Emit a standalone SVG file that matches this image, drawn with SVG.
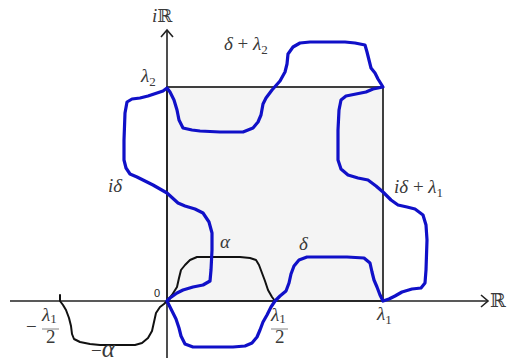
<svg xmlns="http://www.w3.org/2000/svg" width="507" height="364" viewBox="0 0 507 364">
<defs>
<style>
.ax{stroke:#222;stroke-width:1.6;fill:none}
.blue{stroke:#1010c8;stroke-width:3.2;fill:none;stroke-linejoin:round;stroke-linecap:round}
.blk{stroke:#111;stroke-width:2;fill:none;stroke-linejoin:round;stroke-linecap:round}
.t{font-family:"Liberation Serif","DejaVu Serif",serif;fill:#3a3a3a;font-size:19px}
.it{font-style:italic}
.sub{font-size:13px}
</style>
</defs>
<rect width="507" height="364" fill="#fff"/>
<g id="box">
<rect x="167" y="87" width="216" height="214" fill="#f4f4f4" stroke="#111" stroke-width="1.6"/>
</g>
<g id="axes">
<line class="ax" x1="10" y1="301" x2="488" y2="301"/>
<polyline class="ax" points="481,295 488,301 481,307"/>
<line class="ax" x1="167" y1="30" x2="167" y2="358"/>
<polyline class="ax" points="161,37 167,30 173,37"/>
</g>
<g id="connectors">
<path class="blk" d="M167,301 L172,295 L177,287 L179,278 L181,270 L185,265 L190,260 L197,257 L213,257 L240,257 L250,258 L256,260 L259,265 L262,273 L265,281 L268,290 L272,297 L275,301"/>
<path class="blk" d="M60,295 L60,301 L63,305 L66,310 L69,318 L71,326 L72,334 L74,339 L80,342 L90,344 L100,345 L120,345 L135,345 L142,343 L148,338 L152,331 L154,322 L156,313 L160,307 L164,304 L167,301"/>
<path class="blue" d="M167,301 L170,298 L177,293 L183,290 L193,287 L203,285 L210,281 L211,270 L212,250 L212,233 L209,222 L203,213 L195,209 L185,206 L178,203 L167,193 L160,189 L153,185 L145,181 L137,177 L130,174 L126,168 L124,160 L124,140 L125,113 L127,102 L132,99 L140,98 L148,96 L157,93 L163,91 L167,88 L170,92 L174,100 L177,110 L179,120 L183,128 L192,130 L200,131 L220,132 L243,132 L253,128 L258,122 L261,115 L263,104 L266,98 L272,90 L280,81 L285,72 L287,64 L288,54 L293,47 L300,43 L310,42 L345,42 L355,43 L365,45 L367,52 L369,60 L371,68 L375,73 L378,79 L383,87 L378,88 L373,89 L366,92 L356,94 L346,96 L341,100 L339,110 L338,130 L338,160 L341,169 L348,175 L358,178 L368,180 L376,186 L383,192 L391,200 L398,205 L407,207 L415,209 L423,215 L426,225 L427,240 L426,270 L425,283 L421,288 L412,289 L402,292 L395,296 L389,299 L383,301 L380,295 L377,287 L374,280 L372,272 L370,263 L364,258 L347,257 L320,257 L307,257 L299,260 L294,266 L291,274 L289,283 L286,291 L280,296 L275,301 L271,307 L267,315 L263,322 L260,330 L257,337 L252,343 L245,346 L233,347 L210,347 L193,347 L185,344 L181,336 L179,328 L176,319 L172,311 L167,301 Z"/>
</g>
<g id="labels">
<text class="t" x="152" y="22" font-size="20"><tspan class="it">i</tspan><tspan font-family="DejaVu Serif" font-size="18">ℝ</tspan></text>
<text class="t" x="490" y="307" font-family="DejaVu Serif" font-size="15">ℝ</text>
<text class="t it" x="141" y="82">λ<tspan class="sub" dy="4" font-style="normal">2</tspan></text>
<text class="t it" x="224" y="50">δ<tspan font-style="normal"> + </tspan>λ<tspan class="sub" dy="4" font-style="normal">2</tspan></text>
<text class="t it" x="108" y="192">iδ</text>
<text class="t it" x="394" y="193">iδ<tspan font-style="normal"> + </tspan>λ<tspan class="sub" dy="4" font-style="normal">1</tspan></text>
<text class="t it" x="220" y="248" font-size="26">α</text>
<text class="t it" x="299" y="250" font-size="20">δ</text>
<text x="154" y="297" font-family="Liberation Sans,Arial,sans-serif" font-size="11" fill="#222">0</text>
<text class="t it" x="377" y="320">λ<tspan class="sub" dy="4" font-style="normal">1</tspan></text>
<g id="frac1">
<text class="t it" x="271" y="321" font-size="15">λ<tspan class="sub" font-size="10" dy="2" font-style="normal">1</tspan></text>
<line x1="271" y1="329" x2="288" y2="329" stroke="#666" stroke-width="0.8"/>
<text class="t" x="275" y="343" font-size="15">2</text>
</g>
<g id="frac2">
<text class="t" x="26" y="333">−</text>
<text class="t it" x="42" y="321" font-size="15">λ<tspan class="sub" font-size="10" dy="2" font-style="normal">1</tspan></text>
<line x1="42" y1="329" x2="59" y2="329" stroke="#666" stroke-width="0.8"/>
<text class="t" x="46" y="343" font-size="15">2</text>
</g>
<text class="t" x="91" y="357" font-size="20">−<tspan class="it" font-size="25">α</tspan></text>
</g>
</svg>
